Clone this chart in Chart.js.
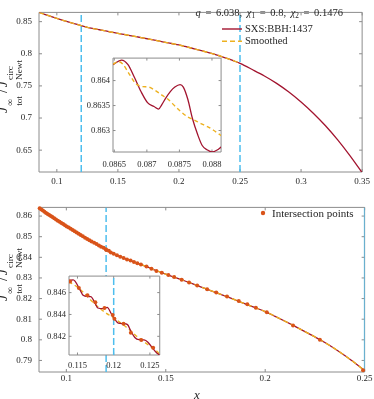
<!DOCTYPE html>
<html>
<head>
<meta charset="utf-8">
<script src="https://cdn.jsdelivr.net/npm/chart.js@4.4.1/dist/chart.umd.min.js"></script>
<style>
  body { margin: 0; background: #fff; }
  #wrap { position: relative; width: 374px; height: 399px; overflow: hidden; font-family: 'Liberation Serif', serif; color: #262626; }
  canvas { position: absolute; }
  .txt { position: absolute; white-space: nowrap; line-height: 1; }
  .ylab { position: absolute; white-space: nowrap; font-size: 14px; line-height: 1; transform: translate(-50%, -50%) rotate(-90deg); }
  .J { position: relative; font-style: italic; }
  .J::after { content: '\02D9'; position: absolute; left: 0.22em; top: -0.42em; font-style: normal; }
  .ss { display: inline-flex; flex-direction: column; font-size: 0.66em; line-height: 1.05; vertical-align: -0.6em; margin: 0 1px 0 1px; }
  .sl { margin: 0 2px; }
  sub { font-size: 0.7em; vertical-align: -0.25em; line-height: 0; }
</style>
</head>
<body>
<div id="wrap">
  <canvas id="topMain" width="374" height="192" style="left:0;top:0"></canvas>
  <canvas id="topInset" width="152" height="126" style="left:78px;top:50px"></canvas>
  <canvas id="botMain" width="374" height="204" style="left:0;top:195px"></canvas>
  <canvas id="botInset" width="126" height="108" style="left:40px;top:268px"></canvas>

  <div class="ylab" style="left:10px;top:86px"><span class="J">J</span><span class="ss"><span>∞</span><span>tot</span></span><span class="sl">/</span><span class="J">J</span><span class="ss"><span>circ</span><span>Newt</span></span></div>
  <div class="ylab" style="left:10px;top:274px"><span class="J">J</span><span class="ss"><span>∞</span><span>tot</span></span><span class="sl">/</span><span class="J">J</span><span class="ss"><span>circ</span><span>Newt</span></span></div>

  <div class="txt" style="right:31px;top:8px;font-size:10.5px;word-spacing:2px"><i>q</i> = 6.038, <i>χ</i><sub>1</sub> = 0.8, <i>χ</i><sub>2</sub> = 0.1476</div>
  <svg style="position:absolute;left:221px;top:25px" width="24" height="20">
    <line x1="1" y1="4" x2="21" y2="4" stroke="#A2142F" stroke-width="1.4"/>
    <line x1="1" y1="16.3" x2="21" y2="16.3" stroke="#EDB120" stroke-width="1.4" stroke-dasharray="5,3"/>
  </svg>
  <div class="txt" style="left:245px;top:23.5px;font-size:10.5px">SXS:BBH:1437</div>
  <div class="txt" style="left:245px;top:36px;font-size:10.5px">Smoothed</div>

  <svg style="position:absolute;left:259px;top:209px" width="8" height="8">
    <circle cx="4" cy="4" r="2.2" fill="#D95319"/>
  </svg>
  <div class="txt" style="left:272px;top:208px;font-size:11px">Intersection points</div>

  <div class="txt" style="left:197px;top:394px;font-size:13px;transform:translate(-50%,-50%)"><i>x</i></div>
</div>

<script>
// ---- data ----
const mainX = [0.0855, 0.09, 0.095, 0.1, 0.105, 0.11, 0.115, 0.12, 0.125, 0.13, 0.135, 0.14, 0.145, 0.15, 0.155, 0.16, 0.165, 0.17, 0.175, 0.18, 0.185, 0.19, 0.195, 0.2, 0.205, 0.21, 0.215, 0.22, 0.225, 0.23, 0.235, 0.24, 0.245, 0.25]
const rawMainY = [0.8645, 0.8614, 0.8582, 0.8551, 0.8521, 0.8492, 0.8465, 0.8438, 0.8412, 0.8392, 0.8374, 0.8356, 0.8336, 0.8318, 0.8301, 0.8284, 0.8266, 0.8248, 0.8230, 0.8212, 0.8193, 0.8174, 0.8156, 0.8137, 0.8114, 0.8090, 0.8065, 0.8040, 0.8014, 0.7987, 0.7957, 0.7924, 0.7889, 0.7850]
const smoothMainY = [0.8645, 0.8614, 0.8582, 0.8551, 0.8521, 0.8492, 0.8465, 0.8438, 0.8412, 0.8392, 0.8374, 0.8356, 0.8336, 0.8318, 0.8301, 0.8284, 0.8266, 0.8248, 0.8230, 0.8212, 0.8193, 0.8174, 0.8156, 0.8137, 0.8114, 0.8090, 0.8065, 0.8040, 0.8014, 0.7987, 0.7957, 0.7924, 0.7889, 0.7850]

// raw waveform continues past the smoothing window
const tailX = [0.26, 0.27, 0.28, 0.29, 0.30, 0.31, 0.32, 0.33, 0.34, 0.35]
const tailY = [0.7755, 0.7655, 0.7540, 0.7405, 0.7250, 0.7075, 0.6880, 0.6660, 0.6415, 0.6150]

// top inset (zoom near x = 0.087)
const insetTopRawX = [0.08648, 0.08661, 0.08671, 0.08681, 0.08691, 0.08701, 0.08711, 0.08718, 0.08723, 0.08729, 0.08736, 0.08743, 0.08751, 0.08756, 0.08763, 0.08770, 0.08778, 0.08785, 0.08793, 0.08800, 0.08808, 0.08815]
const insetTopRawY = [0.86432, 0.86441, 0.86432, 0.86406, 0.86378, 0.86356, 0.86348, 0.86343, 0.86352, 0.86365, 0.86378, 0.86387, 0.86392, 0.86387, 0.86362, 0.86324, 0.86292, 0.86270, 0.86261, 0.86257, 0.86261, 0.86268]
const insetTopSmoothX = [0.08648, 0.08656, 0.08663, 0.08673, 0.08683, 0.08693, 0.08703, 0.08713, 0.08723, 0.08733, 0.08743, 0.08753, 0.08763, 0.08773, 0.08783, 0.08793, 0.08803, 0.08815]
const insetTopSmoothY = [0.86433, 0.86438, 0.86433, 0.86413, 0.86394, 0.86388, 0.86387, 0.86380, 0.86371, 0.86362, 0.86349, 0.86337, 0.86327, 0.86321, 0.86314, 0.86308, 0.86300, 0.86289]

// bottom inset (zoom near x = 0.12)
const insetBotRawX = [0.11383, 0.11441, 0.11533, 0.11578, 0.11638, 0.11683, 0.11737, 0.11782, 0.11850, 0.11910, 0.11965, 0.12010, 0.12064, 0.12136, 0.12191, 0.12237, 0.12292, 0.12350, 0.12418, 0.12473, 0.12531, 0.12599, 0.12636]
const insetBotRawY = [0.84711, 0.84716, 0.84628, 0.84575, 0.84564, 0.84564, 0.84511, 0.84459, 0.84453, 0.84465, 0.84409, 0.84360, 0.84321, 0.84316, 0.84307, 0.84248, 0.84189, 0.84169, 0.84167, 0.84146, 0.84096, 0.84044, 0.84029]
const insetBotSmoothX = [0.1138, 0.115, 0.116, 0.117, 0.118, 0.119, 0.12, 0.121, 0.122, 0.123, 0.124, 0.125, 0.126, 0.1264]
const insetBotSmoothY = [0.8470, 0.8465, 0.8459, 0.8452, 0.8446, 0.8441, 0.8437, 0.8432, 0.8427, 0.8421, 0.8416, 0.8411, 0.8406, 0.8403]

// intersection points of raw and smoothed
const crossX = [0.0866, 0.0874, 0.0882, 0.0890, 0.0898, 0.0906, 0.0914, 0.0922, 0.0930, 0.0939, 0.0948, 0.0957, 0.0966, 0.0975, 0.0984, 0.0993, 0.1002, 0.1012, 0.1022, 0.1032, 0.1042, 0.1052, 0.1062, 0.1072, 0.1083, 0.1094, 0.1105, 0.1116, 0.1127, 0.11397, 0.11519, 0.11638, 0.11747, 0.11873, 0.11986, 0.1201, 0.12136, 0.12237, 0.12381, 0.12545, 0.1271, 0.1288, 0.1305, 0.1323, 0.1340, 0.1357, 0.1375, 0.1403, 0.1428, 0.1453, 0.1480, 0.1513, 0.1542, 0.1580, 0.1617, 0.1658, 0.1708, 0.1754, 0.1808, 0.1867, 0.1910, 0.1953, 0.2008, 0.2140, 0.2275, 0.2492]
const crossY = [0.8638, 0.8632, 0.8627, 0.8621, 0.8615, 0.8610, 0.8605, 0.8600, 0.8595, 0.8589, 0.8583, 0.8577, 0.8572, 0.8566, 0.8561, 0.8555, 0.8550, 0.8544, 0.8538, 0.8532, 0.8526, 0.8520, 0.8514, 0.8508, 0.8502, 0.8495, 0.8489, 0.8483, 0.8477, 0.84702, 0.84643, 0.84575, 0.84511, 0.84459, 0.84395, 0.8436, 0.84316, 0.84233, 0.84167, 0.84096, 0.8403, 0.8397, 0.8390, 0.8384, 0.8377, 0.8371, 0.8365, 0.8355, 0.8345, 0.8334, 0.8325, 0.8314, 0.8304, 0.8291, 0.8278, 0.8263, 0.8245, 0.8229, 0.8210, 0.8188, 0.8172, 0.8156, 0.8134, 0.8070, 0.8000, 0.7853]

// window edges marked with dashed lines
const windowX = [0.12, 0.25]

// tick labels
const topXTicks = [0.1, 0.15, 0.2, 0.25, 0.3, 0.35]
const topYTicks = [0.65, 0.7, 0.75, 0.8, 0.85]
const botXTicks = [0.1, 0.15, 0.2, 0.25]
const botYTicks = [0.79, 0.8, 0.81, 0.82, 0.83, 0.84, 0.85, 0.86]
const topInsetXTicks = [0.0865, 0.087, 0.0875, 0.088]
const topInsetYTicks = [0.863, 0.8635, 0.864]
const botInsetXTicks = [0.115, 0.12, 0.125]
const botInsetYTicks = [0.842, 0.844, 0.846]

// ---- styling ----
const SERIF = "'Liberation Serif', 'Times New Roman', serif"
const RAW = '#A2142F'
const SMOOTH = '#EDB120'
const CROSS = '#D95319'
const WIN = '#4DBEEE'

Chart.defaults.font.family = SERIF
Chart.defaults.color = '#262626'

const pts = (xs, ys) => xs.map((x, i) => ({ x, y: ys[i] }))

// MATLAB-like box with inward ticks on all four sides
const boxPlugin = {
  id: 'box',
  beforeDraw(chart, args, opts) {
    if (!opts.fill) return
    const { ctx, chartArea: a } = chart
    ctx.save()
    ctx.fillStyle = '#fff'
    ctx.fillRect(a.left, a.top, a.right - a.left, a.bottom - a.top)
    ctx.restore()
  },
  beforeDatasetsDraw(chart, args, opts) {
    const { ctx, chartArea: a, scales: { x, y } } = chart
    const len = opts.tick || 3
    ctx.save()
    ctx.strokeStyle = '#8c8c8c'
    ctx.lineWidth = 1
    ctx.beginPath()
    ctx.rect(a.left, a.top, a.right - a.left, a.bottom - a.top)
    x.ticks.forEach(t => {
      const px = x.getPixelForValue(t.value)
      ctx.moveTo(px, a.bottom); ctx.lineTo(px, a.bottom - len)
      ctx.moveTo(px, a.top); ctx.lineTo(px, a.top + len)
    })
    y.ticks.forEach(t => {
      const py = y.getPixelForValue(t.value)
      ctx.moveTo(a.left, py); ctx.lineTo(a.left + len, py)
      ctx.moveTo(a.right, py); ctx.lineTo(a.right - len, py)
    })
    ctx.stroke()
    ctx.restore()
  }
}

function makeScale(min, max, tickValues, fontSize, pad, size, isX) {
  return {
    type: 'linear',
    min, max,
    grid: { display: false, drawTicks: false },
    border: { display: false },
    afterBuildTicks: s => { s.ticks = tickValues.map(v => ({ value: v })) },
    ticks: {
      font: { size: fontSize },
      color: '#262626',
      padding: pad,
      maxRotation: 0,
      autoSkip: false,
      callback: v => String(v)
    },
    afterFit: s => { if (isX) s.height = size; else s.width = size }
  }
}

function lineSet(data, color, width, dash) {
  return {
    data, showLine: true, borderColor: color, borderWidth: width, borderDash: dash || [],
    pointRadius: 0, cubicInterpolationMode: 'monotone', fill: false
  }
}

function windowLine(x, yMin, yMax, dash) {
  return {
    data: [{ x, y: yMin }, { x, y: yMax }], showLine: true, borderColor: WIN, borderWidth: 1.5,
    borderDash: dash, pointRadius: 0, tension: 0, fill: false
  }
}

function makeChart(id, cfg) {
  return new Chart(document.getElementById(id), {
    type: 'scatter',
    data: { datasets: cfg.datasets },
    options: {
      responsive: false,
      animation: false,
      devicePixelRatio: 1,
      layout: { padding: cfg.padding },
      plugins: { legend: { display: false }, tooltip: { enabled: false }, box: cfg.box || {} },
      scales: { x: cfg.x, y: cfg.y }
    },
    plugins: [boxPlugin]
  })
}

// top panel
const tY = [0.616, 0.8644]
makeChart('topMain', {
  padding: { left: 0, right: 8.5, top: 0, bottom: 0 },
  x: makeScale(0.0854, 0.35, topXTicks, 9, 4, 20, true),
  y: makeScale(tY[0], tY[1], topYTicks, 9, 7, 39, false),
  box: { tick: 3 },
  datasets: [
    lineSet(pts(mainX, smoothMainY), SMOOTH, 1.4, [5, 3]),
    lineSet(pts(mainX.concat(tailX), rawMainY.concat(tailY)), RAW, 1.3),
    windowLine(windowX[0], tY[0], tY[1], [7, 3]),
    windowLine(windowX[1], tY[0], tY[1], [7, 3])
  ]
})

makeChart('topInset', {
  padding: { left: 0, right: 5.5, top: 3, bottom: 0 },
  x: makeScale(0.08648, 0.08814, topInsetXTicks, 8.5, 8, 24, true),
  y: makeScale(0.86257, 0.86445, topInsetYTicks, 8.5, 3, 35, false),
  box: { fill: true, tick: 2.5 },
  datasets: [
    lineSet(pts(insetTopSmoothX, insetTopSmoothY), SMOOTH, 1.4, [4, 3]),
    lineSet(pts(insetTopRawX, insetTopRawY), RAW, 1.3)
  ]
})

// bottom panel
const bY = [0.7844, 0.8642]
makeChart('botMain', {
  padding: { left: 0, right: 8.3, top: 5, bottom: 0 },
  x: makeScale(0.08625, 0.25, botXTicks, 9, 1.5, 27, true),
  y: makeScale(bY[0], bY[1], botYTicks, 9, 7, 39, false),
  box: { tick: 3 },
  datasets: [
    { data: pts(crossX, crossY), pointRadius: 2, pointBackgroundColor: CROSS, pointBorderColor: CROSS, pointBorderWidth: 0, clip: false },
    lineSet(pts(mainX, smoothMainY), SMOOTH, 1.4, [5, 3]),
    lineSet(pts(mainX, rawMainY), RAW, 1.3),
    windowLine(windowX[0], bY[0], bY[1], [7, 3]),
    windowLine(windowX[1], bY[0], bY[1], [])
  ]
})

const biY = [0.84029, 0.84751]
makeChart('botInset', {
  padding: { left: 0, right: 5, top: 4.7, bottom: 0 },
  x: makeScale(0.11383, 0.12636, botInsetXTicks, 8.5, 6, 21, true),
  y: makeScale(biY[0], biY[1], botInsetYTicks, 8.5, 3, 29, false),
  box: { fill: true, tick: 2.5 },
  datasets: [
    { data: pts(crossX, crossY), pointRadius: 2, pointBackgroundColor: CROSS, pointBorderColor: CROSS, pointBorderWidth: 0 },
    lineSet(pts(insetBotRawX, insetBotRawY), RAW, 1.3),
    lineSet(pts(insetBotSmoothX, insetBotSmoothY), SMOOTH, 1.4, [4, 3]),
    windowLine(windowX[0], biY[0], biY[1], [7, 3])
  ]
})
</script>
</body>
</html>
